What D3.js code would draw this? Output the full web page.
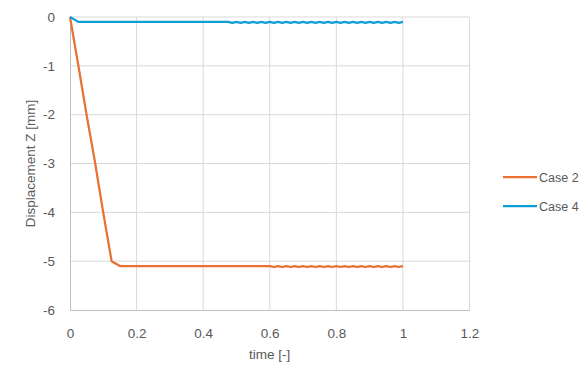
<!DOCTYPE html>
<html lang="en">
	<head>
		<meta charset="utf-8">
		<title>Displacement Z</title>
		<script src="https://cdn.jsdelivr.net/npm/d3@7"></script>
		<style>
			body { margin: 0; background: #fff; }
			text { font-family: "Liberation Sans", Arial, sans-serif; fill: #595959; }
		</style>
	</head>
	<body>
	<script>
		// data
		var seriesNames = ["Case 2", "Case 4"];
		var seriesColors = ["#E97132", "#0F9ED5"];

		var case2Time = [0, 0.025, 0.05, 0.075, 0.1, 0.125, 0.15, 0.6,
			0.6125, 0.625, 0.6375, 0.65, 0.6625, 0.675, 0.6875, 0.7, 0.7125, 0.725, 0.7375, 0.75,
			0.7625, 0.775, 0.7875, 0.8, 0.8125, 0.825, 0.8375, 0.85, 0.8625, 0.875, 0.8875, 0.9,
			0.9125, 0.925, 0.9375, 0.95, 0.9625, 0.975, 0.9875, 1.0];
		var case2Disp = [0, -0.99, -2.01, -2.97, -4.01, -5.0, -5.1, -5.1,
			-5.12, -5.1, -5.12, -5.1, -5.12, -5.1, -5.12, -5.1, -5.12, -5.1, -5.12, -5.1,
			-5.12, -5.1, -5.12, -5.1, -5.12, -5.1, -5.12, -5.1, -5.12, -5.1, -5.12, -5.1,
			-5.12, -5.1, -5.12, -5.1, -5.12, -5.1, -5.12, -5.1];

		var case4Time = [0, 0.025, 0.475,
			0.4875, 0.5, 0.5125, 0.525, 0.5375, 0.55, 0.5625, 0.575, 0.5875, 0.6,
			0.6125, 0.625, 0.6375, 0.65, 0.6625, 0.675, 0.6875, 0.7, 0.7125, 0.725, 0.7375, 0.75,
			0.7625, 0.775, 0.7875, 0.8, 0.8125, 0.825, 0.8375, 0.85, 0.8625, 0.875, 0.8875, 0.9,
			0.9125, 0.925, 0.9375, 0.95, 0.9625, 0.975, 0.9875, 1.0];
		var case4Disp = [0, -0.1, -0.1,
			-0.12, -0.1, -0.12, -0.1, -0.12, -0.1, -0.12, -0.1, -0.12, -0.1,
			-0.12, -0.1, -0.12, -0.1, -0.12, -0.1, -0.12, -0.1, -0.12, -0.1, -0.12, -0.1,
			-0.12, -0.1, -0.12, -0.1, -0.12, -0.1, -0.12, -0.1, -0.12, -0.1, -0.12, -0.1,
			-0.12, -0.1, -0.12, -0.1, -0.12, -0.1, -0.12, -0.1];

		var xTicks = [0, 0.2, 0.4, 0.6, 0.8, 1, 1.2];
		var yTicks = [0, -1, -2, -3, -4, -5, -6];

		//setup
		var width = 585, height = 375;
		var plotLeft = 70, plotRight = 469.5, plotTop = 17, plotBottom = 310;

		var svg = d3.select("body").append("svg")
			.attr("width", width)
			.attr("height", height);

		var x = d3.scaleLinear().domain([0, 1.2]).range([plotLeft, plotRight]);
		var y = d3.scaleLinear().domain([-6, 0]).range([plotBottom, plotTop]);

		// grid
		svg.append("g").selectAll("line").data(xTicks.slice(1)).enter().append("line")
			.attr("x1", function(d) { return x(d); })
			.attr("x2", function(d) { return x(d); })
			.attr("y1", plotTop).attr("y2", plotBottom)
			.attr("stroke", "#d9d9d9").attr("stroke-width", 1);
		svg.append("g").selectAll("line").data(yTicks.slice(0, -1)).enter().append("line")
			.attr("x1", plotLeft).attr("x2", plotRight)
			.attr("y1", function(d) { return y(d); })
			.attr("y2", function(d) { return y(d); })
			.attr("stroke", "#d9d9d9").attr("stroke-width", 1);

		// axes
		var xAxis = svg.append("g")
			.attr("transform", "translate(0," + plotBottom + ")")
			.call(d3.axisBottom(x).tickValues(xTicks).tickSize(0).tickPadding(18)
				.tickFormat(function(d) { return String(d); }));
		var yAxis = svg.append("g")
			.attr("transform", "translate(" + plotLeft + ",0)")
			.call(d3.axisLeft(y).tickValues(yTicks).tickSize(0).tickPadding(15)
				.tickFormat(function(d) { return String(d); }));
		[xAxis, yAxis].forEach(function(a) {
			a.select(".domain").attr("stroke", "#bfbfbf").attr("stroke-width", 1);
			a.selectAll("text").attr("font-size", 13.5).attr("fill", "#595959")
				.attr("font-family", "Liberation Sans, Arial, sans-serif");
		});

		// titles
		svg.append("text")
			.attr("x", (plotLeft + plotRight) / 2).attr("y", 359)
			.attr("text-anchor", "middle").attr("font-size", 13.5)
			.text("time [-]");
		svg.append("text")
			.attr("transform", "translate(35," + ((plotTop + plotBottom) / 2) + ") rotate(-90)")
			.attr("text-anchor", "middle").attr("font-size", 13.5)
			.text("Displacement Z [mm]");

		// lines
		var line = d3.line()
			.x(function(d) { return x(d[0]); })
			.y(function(d) { return y(d[1]); });
		var series = [d3.zip(case2Time, case2Disp), d3.zip(case4Time, case4Disp)];
		svg.append("g").selectAll("path").data(series).enter().append("path")
			.attr("d", line)
			.attr("fill", "none")
			.attr("stroke", function(d, i) { return seriesColors[i]; })
			.attr("stroke-width", 2.25)
			.attr("stroke-linejoin", "round");

		// legend
		var legend = svg.append("g").selectAll("g").data(seriesNames).enter().append("g")
			.attr("transform", function(d, i) { return "translate(503," + (177 + i * 29) + ")"; });
		legend.append("line")
			.attr("x1", 0).attr("x2", 34)
			.attr("stroke", function(d, i) { return seriesColors[i]; })
			.attr("stroke-width", 2.25);
		legend.append("text")
			.attr("x", 36).attr("y", 4.5)
			.attr("font-size", 12.5)
			.text(function(d) { return d; });
	</script>
	</body>
</html>
